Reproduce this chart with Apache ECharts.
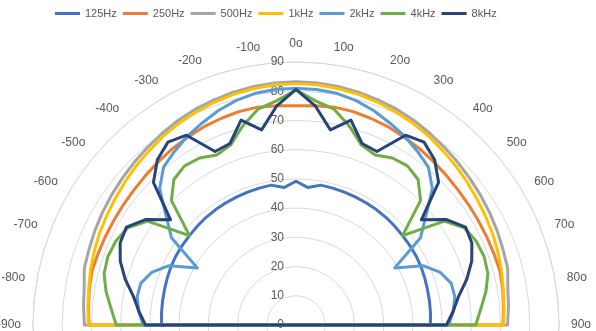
<!DOCTYPE html>
<html>
<head>
<meta charset="utf-8">
<script src="https://cdn.jsdelivr.net/npm/echarts@6/dist/echarts.min.js"></script>
<style>
html,body{margin:0;padding:0;background:#fff;}
#chart{width:596px;height:331px;}
</style>
</head>
<body>
<div id="chart"></div>
<script>
// Angles in degrees (-90 .. 90, step 5)
const angles = [-90,-85,-80,-75,-70,-65,-60,-55,-50,-45,-40,-35,-30,-25,-20,-15,-10,-5,0,5,10,15,20,25,30,35,40,45,50,55,60,65,70,75,80,85,90];
const seriesNames = ['125Hz','250Hz','500Hz','1kHz','2kHz','4kHz','8kHz'];
const hz125 = [46.0,46.2,46.4,46.6,46.9,47.2,47.4,47.5,47.6,47.8,48.0,48.1,48.2,48.3,48.4,48.5,48.6,47.2,49.2,47.2,48.6,48.5,48.4,48.3,48.2,48.1,48.0,47.8,47.6,47.5,47.4,47.2,46.9,46.6,46.4,46.2,46.0];
const hz250 = [70.8,71.3,71.8,72.2,72.0,71.9,71.9,72.0,72.2,72.6,73.1,73.7,74.2,74.8,75.2,75.6,75.7,75.3,75.0,75.3,75.7,75.6,75.2,74.8,74.2,73.7,73.1,72.6,72.2,72.0,71.9,71.9,72.0,72.2,71.8,71.3,70.8];
const hz500 = [72.4,73.0,73.6,75.0,75.4,76.0,76.6,77.2,77.8,78.5,79.2,80.0,80.8,81.5,82.0,82.5,82.9,83.1,83.2,83.1,82.9,82.5,82.0,81.5,80.8,80.0,79.2,78.5,77.8,77.2,76.6,76.0,75.4,75.0,73.6,73.0,72.4];
const khz1 = [71.0,71.5,72.0,72.8,73.5,74.2,74.8,75.5,76.3,77.2,78.0,79.0,79.8,80.5,81.2,81.8,82.2,82.5,82.6,82.5,82.2,81.8,81.2,80.5,79.8,79.0,78.0,77.2,76.3,75.5,74.8,74.2,73.5,72.8,72.0,71.5,71.0];
const khz2 = [52.3,54.0,55.2,55.0,52.6,48.0,39.0,52.0,58.0,66.0,70.5,72.5,74.5,76.2,78.0,79.5,80.5,80.9,81.0,80.9,80.5,79.5,78.0,76.2,74.5,72.5,70.5,66.0,58.0,52.0,39.0,48.0,52.6,55.0,55.2,54.0,52.3];
const khz4 = [61.5,63.5,66.0,68.0,68.5,68.0,66.5,62.0,47.6,60.3,65.0,66.5,66.0,64.2,65.5,70.5,75.0,77.0,80.4,77.0,75.0,70.5,65.5,64.2,66.0,66.5,65.0,60.3,47.6,62.0,66.5,68.0,68.5,68.0,66.0,63.5,61.5];
const khz8 = [51.5,54.0,56.5,60.5,64.0,66.4,67.0,62.9,56.0,69.0,73.8,76.4,75.0,65.5,66.1,72.6,67.8,75.3,80.6,75.3,67.8,72.6,66.1,65.5,75.0,76.4,73.8,69.0,56.0,62.9,67.0,66.4,64.0,60.5,56.5,54.0,51.5];
const radiusTicks = [0,10,20,30,40,50,60,70,80,90];
const colors = ['#4472C4','#ED7D31','#A5A5A5','#FFC000','#5B9BD5','#70AD47','#264478'];

const allValues = [hz125, hz250, hz500, khz1, khz2, khz4, khz8];
const font = '"Liberation Sans", sans-serif';

function toAngleValue(a){ return a < 0 ? a + 360 : a; }
function buildData(vals){
  const d = [[0, toAngleValue(angles[0])]];
  for (let i = 0; i < angles.length; i++) d.push([vals[i], toAngleValue(angles[i])]);
  d.push([0, toAngleValue(angles[angles.length-1])]);
  return d;
}

const chart = echarts.init(document.getElementById('chart'), null, {renderer:'canvas'});
chart.setOption({
  animation: false,
  color: colors,
  legend: {
    data: seriesNames,
    left: 50, top: 3,
    icon: 'rect', itemWidth: 25, itemHeight: 3, itemGap: 6,
    textStyle: {color:'#595959', fontSize: 11, fontFamily: font}
  },
  polar: { center: [296, 325], radius: 263 },
  angleAxis: {
    type: 'value', min: 0, max: 360, interval: 10,
    startAngle: 90, clockwise: true,
    axisLine: {show: true, lineStyle: {color:'#d9d9d9', width: 1}},
    axisTick: {show: false},
    splitLine: {show: false},
    axisLabel: {
      margin: 12, color:'#595959', fontSize: 12, fontFamily: font,
      formatter: function(v){
        if (v >= 0 && v <= 90) return v + 'o';
        if (v >= 270 && v < 360) return (v - 360) + 'o';
        return '';
      }
    }
  },
  radiusAxis: {
    type: 'value', min: radiusTicks[0], max: radiusTicks[radiusTicks.length-1], interval: 10,
    axisLine: {show: false},
    axisTick: {show: false},
    splitLine: {show: true, lineStyle: {color:'#d9d9d9', width: 1}},
    axisLabel: {color:'#595959', fontSize: 12, fontFamily: font, margin: 12}
  },
  series: seriesNames.map((n, i) => ({
    name: n, type: 'line', coordinateSystem: 'polar',
    data: buildData(allValues[i]),
    showSymbol: false, symbol: 'none', smooth: false,
    lineStyle: {width: 3, color: colors[i], join: 'round', cap: 'round'},
    itemStyle: {color: colors[i]},
    z: 2 + i
  }))
});
</script>
</body>
</html>
